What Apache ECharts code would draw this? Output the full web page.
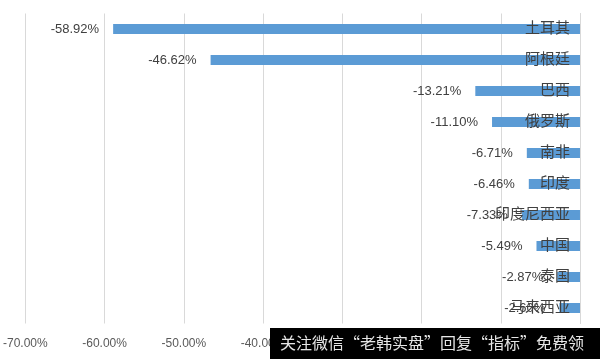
<!DOCTYPE html>
<html><head><meta charset="utf-8">
<script src="https://cdn.jsdelivr.net/npm/echarts@6/dist/echarts.min.js"></script>
<style>html,body{margin:0;padding:0;background:#fff}#c{width:600px;height:359px}</style>
</head><body><div id="c"></div>
<script>
const categories = ['土耳其','阿根廷','巴西','俄罗斯','南非','印度','印度尼西亚','中国','泰国','马来西亚'];
const values = [-58.92,-46.62,-13.21,-11.10,-6.71,-6.46,-7.33,-5.49,-2.87,-2.60];
const watermark = '关注微信“老韩实盘”回复“指标”免费领';
const FONT = '"Liberation Sans","Noto Sans CJK SC",sans-serif';
const chart = echarts.init(document.getElementById('c'));
chart.setOption({
  animation:false,
  grid:{left:25,right:20,top:13.5,bottom:35.5,containLabel:false},
  xAxis:{type:'value',min:-70,max:0,interval:10,
    axisLine:{show:false},axisTick:{show:false},
    splitLine:{show:true,lineStyle:{color:'#d9d9d9',width:1}},
    axisLabel:{formatter:v=>v.toFixed(2)+'%',color:'#595959',fontSize:12,margin:14,fontFamily:FONT}},
  yAxis:{type:'category',data:categories,inverse:true,position:'right',z:10,
    axisLine:{show:true,lineStyle:{color:'#d9d9d9'}},axisTick:{show:false},
    axisLabel:{inside:true,margin:10,color:'#404040',fontSize:15,fontFamily:FONT}},
  series:[{type:'bar',data:values,barWidth:10,itemStyle:{color:'#5b9bd5'},z:2,
    label:{show:true,position:'left',distance:14,color:'#404040',fontSize:13,fontFamily:FONT,
      formatter:p=>p.value.toFixed(2)+'%'}}],
  graphic:[{type:'rect',left:270,top:328,shape:{width:330,height:31},style:{fill:'#000'},z:100},
    {type:'text',left:280,top:335,style:{text:watermark,fill:'#e6e6e6',fontSize:16,fontFamily:'"Noto Sans CJK SC",sans-serif'},z:101}]
});
</script></body></html>
